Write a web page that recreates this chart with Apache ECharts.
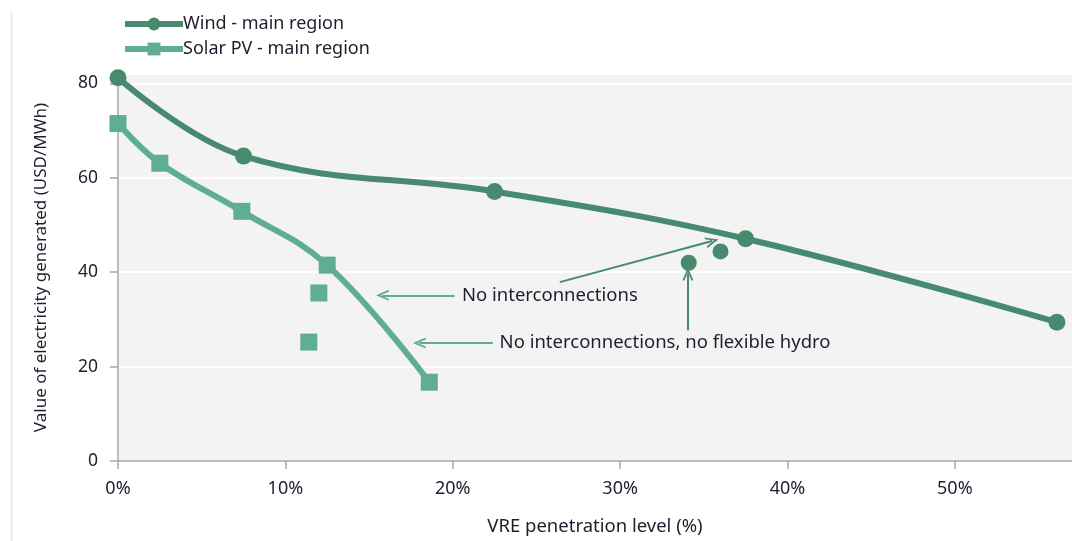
<!DOCTYPE html>
<html><head><meta charset="utf-8">
<script src="https://cdn.jsdelivr.net/npm/echarts@6/dist/echarts.min.js"></script>
<style>html,body{margin:0;padding:0;background:#fff}#c{width:1072px;height:541px}</style>
</head><body><div id="c"></div>
<script>
// ---- data ----
const windX = [0, 7.5, 22.5, 37.5, 56.1];
const windY = [81.2, 64.6, 57.1, 47.1, 29.4];
const solarX = [0, 2.5, 7.4, 12.5, 18.6];
const solarY = [71.5, 63.1, 52.9, 41.5, 16.7];
const windAltX = [36.0, 34.1];
const windAltY = [44.4, 42.0];
const solarAltX = [12.0, 11.4];
const solarAltY = [35.6, 25.2];
const xTickLabels = ['0%', '10%', '20%', '30%', '40%', '50%'];
const yTickLabels = ['0', '20', '40', '60', '80'];
const seriesNames = ['Wind - main region', 'Solar PV - main region'];
const noteTexts = ['No interconnections', 'No interconnections, no flexible hydro'];
const noteAnchors = [[20.55, 35.1], [22.8, 25.0]];
// arrows: [from, to] in data units
const solarArrows = [[[20.1, 35.1], [15.8, 35.1]], [[22.4, 25.0], [18.0, 25.0]]];
const windArrows = [[[26.4, 37.9], [35.5, 46.6]], [[34.05, 27.7], [34.05, 39.6]]];

const WIND = '#478a6e', SOLAR = '#5fae93', TXT = '#1e1e2e';
const FONT = 'Noto Sans';
const pair = (xs, ys) => xs.map((x, i) => [x, ys[i]]);
const arrowHead = 'path://M0,14 L7,0 L14,14 L11.5,14 L7,5 L2.5,14 Z';

function arrowLine(list, color) {
  return {
    silent: true, symbol: ['none', arrowHead], symbolSize: [11, 13],
    lineStyle: { color: color, width: 2, type: 'solid' }, label: { show: false },
    animation: false,
    data: list.map(a => [{ coord: a[0] }, { coord: a[1] }])
  };
}

const chart = echarts.init(document.getElementById('c'));
chart.setOption({
  animation: false,
  backgroundColor: '#fff',
  textStyle: { fontFamily: FONT },
  legend: {
    orient: 'vertical', left: 117, top: 10, itemWidth: 58, itemHeight: 16, itemGap: 7,
    data: seriesNames,
    lineStyle: { width: 6 },
    textStyle: { fontFamily: FONT, fontSize: 18, color: TXT, padding: [0, 0, 0, -5] }
  },
  grid: { left: 118, right: 0, top: 74, bottom: 80, show: true, backgroundColor: '#f3f3f3', borderWidth: 0 },
  xAxis: {
    type: 'value', min: 0, max: 57, interval: 10,
    name: 'VRE penetration level (%)', nameLocation: 'middle', nameGap: 56,
    nameTextStyle: { fontFamily: FONT, fontSize: 18.5, color: TXT },
    axisLine: { lineStyle: { color: '#a8a8a8', width: 1.5 } },
    axisTick: { show: true, length: 8, lineStyle: { color: '#a8a8a8', width: 1.5 } },
    axisLabel: { margin: 19, fontSize: 18, color: TXT, fontFamily: FONT, showMaxLabel: false,
      formatter: v => xTickLabels[Math.round(v / 10)] || '' },
    splitLine: { show: false }
  },
  yAxis: {
    type: 'value', min: 0, max: 82, interval: 20,
    name: 'Value of electricity generated (USD/MWh)', nameLocation: 'middle', nameGap: 68,
    nameTextStyle: { fontFamily: FONT, fontSize: 17, color: TXT },
    axisLine: { show: true, lineStyle: { color: '#a8a8a8', width: 1.5 } },
    axisTick: { show: true, length: 8, lineStyle: { color: '#a8a8a8', width: 1.5 } },
    axisLabel: { margin: 20, fontSize: 17.5, color: TXT, fontFamily: FONT, showMaxLabel: false,
      formatter: v => yTickLabels[Math.round(v / 20)] || '' },
    splitLine: { show: true, lineStyle: { color: '#ffffff', width: 2 } }
  },
  series: [
    { name: seriesNames[0], type: 'line', data: pair(windX, windY), smooth: 0.4,
      symbol: 'circle', symbolSize: 17, showAllSymbol: true,
      lineStyle: { color: WIND, width: 6 }, itemStyle: { color: WIND }, z: 3,
      markLine: arrowLine(windArrows, WIND) },
    { name: seriesNames[1], type: 'line', data: pair(solarX, solarY), smooth: 0.4,
      symbol: 'rect', symbolSize: 17, showAllSymbol: true,
      lineStyle: { color: SOLAR, width: 6 }, itemStyle: { color: SOLAR }, z: 3,
      markLine: arrowLine(solarArrows, SOLAR) },
    { name: 'windAlt', type: 'scatter', data: pair(windAltX, windAltY), symbol: 'circle', symbolSize: 16,
      itemStyle: { color: WIND, opacity: 1 }, z: 3 },
    { name: 'solarAlt', type: 'scatter', data: pair(solarAltX, solarAltY), symbol: 'rect', symbolSize: 17,
      itemStyle: { color: SOLAR, opacity: 1 }, z: 3 }
  ]
});

function placeNotes() {
  const els = noteTexts.map((t, i) => {
    const p = chart.convertToPixel({ gridIndex: 0 }, noteAnchors[i]);
    return { type: 'text', x: p[0], y: p[1], z: 10,
      style: { text: t, fontFamily: FONT, fontSize: 18.5, fill: TXT, verticalAlign: 'middle' } };
  });
  els.push({ type: 'rect', shape: { x: 10, y: 12, width: 3, height: 541 }, style: { fill: '#f0f0f0' }, z: -1 });
  chart.setOption({ graphic: els });
}
placeNotes();
</script>
</body></html>
